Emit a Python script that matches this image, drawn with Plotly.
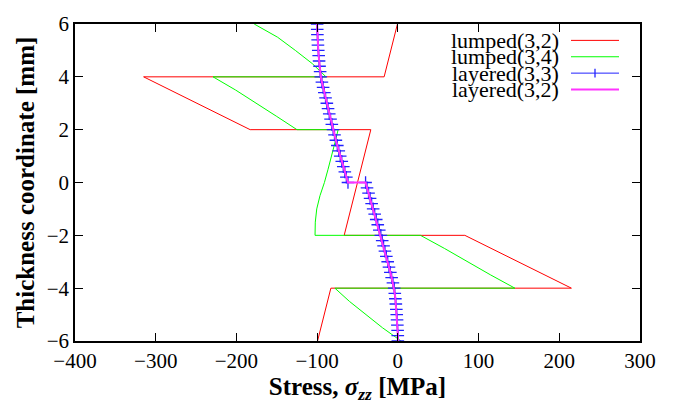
import plotly.graph_objects as go

# ---------------- data ----------------
lumped32_z = [6, 4, 4, 2, 2, -2, -2, -4, -4, -6]
lumped32_stress = [-0.5, -17, -315, -183, -33.5, -66.5, 83, 215, -83, -99.5]

lumped34_z = [6, 5.5, 5, 4.5, 4,
              4, 3.5, 3, 2.5, 2,
              2, 1.5, 1, 0.5, 0, -0.5, -1, -1.5, -2,
              -2, -2.5, -3, -3.5, -4,
              -4, -4.5, -5, -5.5, -6]
lumped34_stress = [-178, -149, -127, -106, -89,
                   -229, -201, -175, -150, -125,
                   -74, -78, -82, -86.5, -91, -96.5, -100.5, -102.3, -102.6,
                   28, 58, 86, 115, 145,
                   -78, -60, -40, -19, 4]

layered_z = [6.0, 5.8, 5.6, 5.4, 5.2, 5.0, 4.8, 4.6, 4.4, 4.2, 4.0,
             3.8, 3.6, 3.4, 3.2, 3.0, 2.8, 2.6, 2.4, 2.2, 2.0,
             1.8, 1.6, 1.4, 1.2, 1.0, 0.8, 0.6, 0.4, 0.2, 0.0,
             0.0, -0.2, -0.4, -0.6, -0.8, -1.0, -1.2, -1.4, -1.6, -1.8, -2.0,
             -2.2, -2.4, -2.6, -2.8, -3.0, -3.2, -3.4, -3.6, -3.8, -4.0,
             -4.2, -4.4, -4.6, -4.8, -5.0, -5.2, -5.4, -5.6, -5.8, -6.0]
layered33_stress = [-100.0, -99.9, -99.7, -99.4, -99.0, -98.6, -98.1, -97.6, -97.0, -96.3, -95.5,
                    -94.1, -92.6, -91.1, -89.6, -88.0, -86.5, -85.0, -83.4, -81.8, -80.2,
                    -78.5, -76.8, -75.0, -73.2, -71.4, -69.5, -67.6, -65.7, -63.8, -61.8,
                    -40.0, -38.2, -36.3, -34.4, -32.5, -30.6, -28.7, -26.8, -24.9, -23.0, -21.1,
                    -19.4, -17.7, -16.0, -14.3, -12.6, -11.0, -9.3, -7.7, -6.1, -4.5,
                    -3.8, -3.1, -2.5, -1.9, -1.4, -1.0, -0.6, -0.3, -0.1, 0.0]
layered32_z = list(layered_z)
layered32_stress = list(layered33_stress)

series_names = ["lumped(3,2)", "lumped(3,4)", "layered(3,3)", "layered(3,2)"]
series_colors = ["#ff0000", "#00ff00", "#2222ff", "#ff33ff"]

x_ticks = [-400, -300, -200, -100, 0, 100, 200, 300]
y_ticks = [-6, -4, -2, 0, 2, 4, 6]

FONT = "Times New Roman, Liberation Serif, Tinos, DejaVu Serif, serif"

# ---------------- figure ----------------
fig = go.Figure()
fig.add_trace(go.Scatter(x=lumped32_stress, y=lumped32_z, mode="lines",
                         line=dict(color=series_colors[0], width=1),
                         name=series_names[0], showlegend=False))
fig.add_trace(go.Scatter(x=lumped34_stress, y=lumped34_z, mode="lines",
                         line=dict(color=series_colors[1], width=1),
                         name=series_names[1], showlegend=False))
fig.add_trace(go.Scatter(x=layered33_stress, y=layered_z, mode="lines+markers",
                         line=dict(color=series_colors[2], width=1),
                         marker=dict(symbol="cross-thin-open", size=9,
                                     line=dict(color=series_colors[2], width=1.3)),
                         name=series_names[2], showlegend=False))
fig.add_trace(go.Scatter(x=layered32_stress, y=layered32_z, mode="lines",
                         line=dict(color=series_colors[3], width=2),
                         name=series_names[3], showlegend=False))

# manual legend (tight gnuplot-like spacing)
L, R, T, B = 75, 640, 15, 344
W, H = R - L, B - T
def px(x):
    return (x - L) / W
def py(y):
    return (B - y) / H

legend_rows_y = [32, 49, 66, 83]
for i, (nm, col) in enumerate(zip(series_names, series_colors)):
    yy = py(legend_rows_y[i])
    fig.add_annotation(x=px(561), y=yy, xref="paper", yref="paper",
                       text=nm, showarrow=False, xanchor="right", yanchor="middle",
                       font=dict(family=FONT, size=22, color="black"))
    fig.add_shape(type="line", xref="paper", yref="paper",
                  x0=px(571), x1=px(619), y0=yy, y1=yy,
                  line=dict(color=col, width=2 if i == 3 else 1))
    if i == 2:
        fig.add_shape(type="line", xref="paper", yref="paper",
                      x0=px(595), x1=px(595), y0=py(legend_rows_y[i] - 4.5),
                      y1=py(legend_rows_y[i] + 4.5),
                      line=dict(color=col, width=1.3))

axis_common = dict(showline=True, linecolor="black", linewidth=1.5, mirror="ticks",
                   ticks="inside", ticklen=8, tickwidth=1, tickcolor="black",
                   showgrid=False, zeroline=False,
                   tickfont=dict(family=FONT, size=21, color="black"))

fig.update_layout(
    width=683, height=404,
    margin=dict(l=L, r=683 - R, t=T, b=404 - B),
    paper_bgcolor="white", plot_bgcolor="white",
    showlegend=False,
    font=dict(family=FONT),
    xaxis=dict(range=[-400, 300], tickvals=x_ticks,
               title=dict(text="<b>Stress, <i>σ<sub>zz</sub></i> [MPa]</b>",
                          font=dict(family=FONT, size=25, color="black"), standoff=2),
               **axis_common),
    yaxis=dict(range=[-6, 6], tickvals=y_ticks,
               title=dict(text="<b>Thickness coordinate [mm]</b>",
                          font=dict(family=FONT, size=25, color="black"), standoff=5),
               **axis_common),
)

fig.write_html("out.html")
